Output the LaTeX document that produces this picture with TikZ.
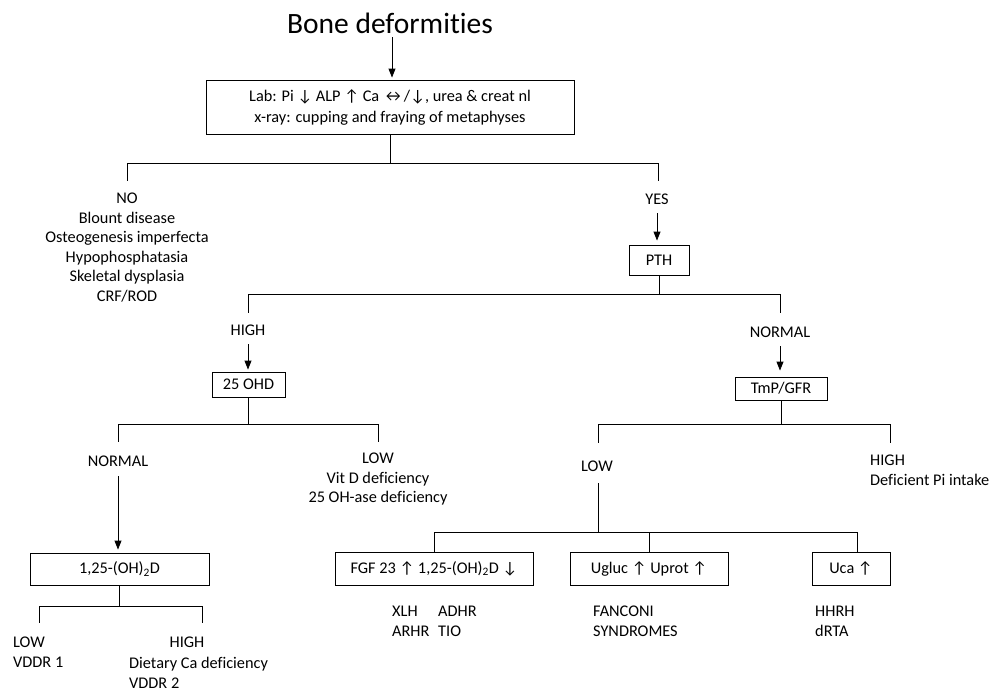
\documentclass[tikz,border=0pt]{standalone}
\usepackage{fontspec}
\setmainfont{Carlito}[Ligatures=NoCommon]
\usetikzlibrary{arrows.meta}
\begin{document}
\begin{tikzpicture}[x=1pt,y=-1pt,
  every node/.style={font=\fontsize{16.3}{19.5}\selectfont},
  box/.style={draw, line width=0.9pt, inner sep=0pt, align=center},
  txt/.style={inner sep=0pt, align=center, anchor=north},
  ltxt/.style={inner sep=0pt, align=left, anchor=north west},
  ln/.style={line width=0.9pt},
  arr/.style={line width=0.9pt, -{Triangle[length=9pt,width=7pt]}}]
\useasboundingbox (0,0) rectangle (1001,691);

% title
\node[anchor=base, inner sep=0pt, font=\fontsize{29.5}{34}\selectfont] (title) at (390,33) {Bone deformities};

% boxes
\node[box, minimum width=368pt, minimum height=54pt, font=\fontsize{16.3}{21}\selectfont] (lab) at (390,107) {Lab: Pi ↓ ALP ↑ Ca ↔/↓, urea \& creat nl\\x-ray: cupping and fraying of metaphyses};
\node[box, minimum width=60pt, minimum height=30pt] (pth) at (659,260) {PTH};
\node[box, minimum width=73pt, minimum height=25pt] (ohd) at (248.5,384.5) {25 OHD};
\node[box, minimum width=92pt, minimum height=23pt] (tmp) at (781,388.5) {TmP/GFR};
\node[box, minimum width=179pt, minimum height=32pt] (d125) at (119.5,569) {1,25-(OH)\textsubscript{2}D};
\node[box, minimum width=198pt, minimum height=33pt] (fgf) at (434,568.5) {FGF 23 ↑ 1,25-(OH)\textsubscript{2}D ↓};
\node[box, minimum width=158pt, minimum height=33pt] (ugl) at (649,568.5) {Ugluc ↑ Uprot ↑};
\node[box, minimum width=78pt, minimum height=33pt] (uca) at (851,568.5) {Uca ↑};

% texts
\node[txt] (no) at (127,193) {NO\\Blount disease\\Osteogenesis imperfecta\\Hypophosphatasia\\Skeletal dysplasia\\CRF/ROD};
\node[txt] (yes) at (657,194) {YES};
\node[txt] (high1) at (248,325) {HIGH};
\node[txt] (normal1) at (780,327) {NORMAL};
\node[txt] (normal2) at (118,456) {NORMAL};
\node[txt] (low1) at (378,453) {LOW\\Vit D deficiency\\25 OH-ase deficiency};
\node[txt] (low2) at (597,461) {LOW};
\node[ltxt] (high2) at (870,455) {HIGH\\Deficient Pi intake};
\node[ltxt] (low3) at (13,637) {LOW\\VDDR 1};
\node[txt] (high3) at (187,637) {HIGH};
\node[ltxt] (diet) at (129,657) {Dietary Ca deficiency\\VDDR 2};
\node[ltxt] (xlh) at (392,606) {XLH\\ARHR};
\node[ltxt] (adhr) at (438,606) {ADHR\\TIO};
\node[ltxt] (fanc) at (593,606) {FANCONI\\SYNDROMES};
\node[ltxt] (hhrh) at (815,606) {HHRH\\dRTA};

% branch ends
\coordinate (cNO) at (127,181);
\coordinate (cYES) at (658,181);
\coordinate (cHI) at (248,313);
\coordinate (cNR) at (780,313);
\coordinate (cN2) at (118,442);
\coordinate (cL1) at (378,442);
\coordinate (cL2) at (598,443);
\coordinate (cH2) at (890,443);
\coordinate (jL) at (598,532);
\coordinate (cL3) at (39,623);
\coordinate (cH3) at (202,623);

% connectors
\draw[arr, shorten <=4pt, shorten >=2pt] (title.south) ++(2,0) -- (lab.north -| 392,0);
\draw[ln] (lab.south) -- ++(0,29) -| (cNO);
\draw[ln] (lab.south) -- ++(0,29) -| (cYES);
\draw[arr, shorten <=8pt, shorten >=4pt] (yes.south) -- (yes.south |- pth.north);
\draw[ln] (pth.south) -- ++(0,19) -| (cHI);
\draw[ln] (pth.south) -- ++(0,19) -| (cNR);
\draw[arr, shorten <=8pt, shorten >=2pt] (high1.south) -- (high1.south |- ohd.north);
\draw[arr, shorten <=8pt, shorten >=6pt] (normal1.south) -- (normal1.south |- tmp.north);
\draw[ln] (ohd.south) -- ++(0,27) -| (cN2);
\draw[ln] (ohd.south) -- ++(0,27) -| (cL1);
\draw[arr, shorten <=9pt, shorten >=3pt] (normal2.south) -- (normal2.south |- d125.north);
\draw[ln] (tmp.south) -- ++(0,24) -| (cL2);
\draw[ln] (tmp.south) -- ++(0,24) -| (cH2);
\draw[ln, shorten <=11pt] (low2.south -| jL) -- (jL);
\draw[ln] (jL) -| (fgf.north);
\draw[ln] (jL) -| (ugl.north);
\draw[ln] (jL) -| ([xshift=6pt]uca.north);
\draw[ln] (d125.south) -- ++(0,21) -| (cL3);
\draw[ln] (d125.south) -- ++(0,21) -| (cH3);
\end{tikzpicture}
\end{document}
